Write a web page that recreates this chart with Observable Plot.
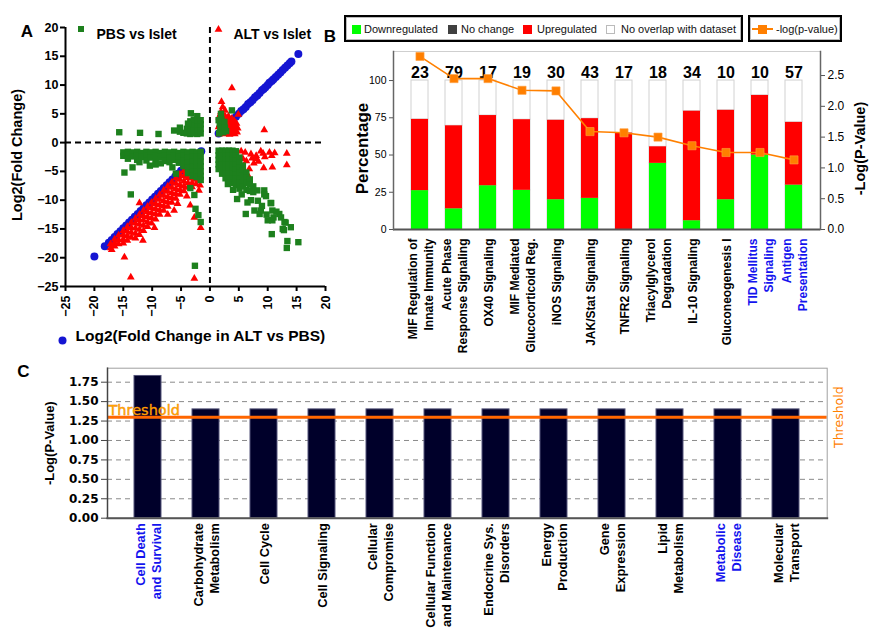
<!DOCTYPE html>
<html>
<head>
<meta charset="utf-8">
<script src="https://cdn.jsdelivr.net/npm/d3@7"></script>
<script src="https://cdn.jsdelivr.net/npm/@observablehq/plot@0.6"></script>
<style>
  html, body { margin:0; padding:0; background:#fff; }
  #root { position:relative; width:877px; height:629px; overflow:hidden; background:#fff; font-family:"Liberation Sans", Arial, sans-serif; }
  .layer { position:absolute; }
  .layer svg { overflow: visible; }
  .lbox { position:absolute; border:2px solid #000; box-sizing:border-box; box-shadow: inset 0 0 0 1px #bbb; }
  .lsq { position:absolute; width:9px; height:9px; box-sizing:border-box; }
  .ltx { position:absolute; font-size:11px; line-height:12px; white-space:nowrap; color:#111; }
</style>
</head>
<body>
<div id="root"></div>
<script>
// ================= Panel A data =================
const aTicks = [-25, -20, -15, -10, -5, 0, 5, 10, 15, 20];
const aSeries = ["PBS vs Islet", "ALT vs Islet", "Log2(Fold Change in ALT vs PBS)"];
const aYLabel = "Log2(Fold Change)";

// Log2(Fold Change in ALT vs PBS) (blue circles)
const blueUp = [[1.5,1.6],[2.0,2.0],[2.5,2.6],[3.0,3.0],[3.5,3.5],[4.0,4.1],[4.5,4.5],[5.0,5.0],[5.4,5.5],[5.8,5.8],[6.2,6.2],[6.6,6.7],[7.0,7.0],[7.4,7.4],[7.8,7.9],[8.2,8.2],[8.6,8.6],[9.0,9.1],[9.3,9.3],[9.6,9.6],[10.0,10.0],[10.3,10.4],[10.7,10.7],[11.0,11.0],[11.4,11.4],[11.8,11.8],[12.2,12.2],[12.6,12.6],[13.0,13.0],[13.4,13.4],[13.8,13.8],[14.1,14.1],[15.3,15.4]];
const blueDown = [[-1.5,-1.5],[-2.0,-2.0],[-2.5,-2.4],[-3.0,-2.9],[-3.5,-3.4],[-4.0,-3.9],[-4.5,-4.4],[-5.0,-4.9],[-5.5,-5.4],[-6.0,-5.9],[-6.5,-6.4],[-7.0,-6.9],[-7.5,-7.4],[-8.0,-7.9],[-8.5,-8.4],[-9.0,-8.9],[-9.5,-9.4],[-10.0,-9.9],[-10.5,-10.4],[-11.0,-10.9],[-11.5,-11.4],[-12.0,-11.9],[-12.5,-12.4],[-13.0,-12.9],[-13.5,-13.4],[-14.0,-13.9],[-14.5,-14.4],[-15.0,-14.9],[-15.5,-15.4],[-16.0,-15.9],[-16.5,-16.4],[-17.0,-16.9],[-17.5,-17.4],[-18.2,-18.0],[-20.0,-19.8]];

// ALT vs Islet (red triangles)
const redUR = [[1.6,1.5],[1.8,2.3],[1.7,3.1],[1.9,3.8],[1.6,4.4],[2.1,1.6],[2.3,2.6],[2.2,3.4],[2.4,4.1],[2.3,4.9],[2.7,1.5],[2.8,2.2],[2.6,3.0],[2.9,3.7],[2.7,4.5],[3.1,1.7],[3.2,2.5],[3.0,3.3],[3.3,4.0],[3.4,1.4],[3.6,2.0],[3.5,2.8],[3.7,3.5],[3.9,1.6],[4.0,2.4],[4.1,3.1],[4.3,1.5],[4.4,2.1],[4.5,2.8],[4.2,3.8],[4.7,1.8],[4.8,2.5],[1.9,5.3],[2.6,5.6],[2.2,6.2],[2.0,7.1],[3.8,9.5],[9.4,2.2],[4.9,4.9],[3.2,4.6],[1.5,2.7],[2.0,1.9],[3.8,4.2],[4.6,3.3],[1.8,4.9]];
const redLR = [[5.4,-1.5],[6.1,-1.7],[7.1,-2.0],[8.0,-2.3],[8.8,-1.5],[9.2,-1.9],[10.3,-1.7],[10.7,-2.3],[11.2,-1.8],[13.3,-1.9],[13.3,-3.9],[10.8,-4.3],[9.3,-4.4],[8.0,-2.8],[8.4,-3.3],[6.8,-4.6],[6.6,-5.7],[5.7,-2.8],[6.3,-3.2],[7.6,-3.6],[5.0,-3.8],[9.5,-2.5],[7.3,-2.7]];
const redLL = [[-17.2,-17.6],[-17.2,-18.3],[-16.5,-16.8],[-16.5,-17.4],[-16.5,-18.0],[-15.8,-16.1],[-15.8,-16.9],[-15.8,-17.6],[-15.0,-15.3],[-15.0,-16.0],[-15.0,-16.8],[-15.0,-17.5],[-14.3,-14.6],[-14.3,-15.4],[-14.3,-16.2],[-14.3,-17.0],[-13.6,-13.9],[-13.6,-14.8],[-13.6,-15.6],[-13.6,-16.5],[-12.9,-13.2],[-12.9,-14.0],[-12.9,-14.9],[-12.9,-15.8],[-12.9,-16.6],[-12.2,-12.5],[-12.2,-13.4],[-12.2,-14.2],[-12.2,-15.1],[-12.2,-16.0],[-11.5,-11.8],[-11.5,-12.7],[-11.5,-13.5],[-11.5,-14.4],[-11.5,-15.3],[-10.8,-11.1],[-10.8,-12.0],[-10.8,-12.9],[-10.8,-13.8],[-10.8,-14.6],[-10.1,-10.4],[-10.1,-11.3],[-10.1,-12.2],[-10.1,-13.1],[-10.1,-14.0],[-9.4,-9.7],[-9.4,-10.6],[-9.4,-11.5],[-9.4,-12.4],[-9.4,-13.3],[-8.7,-9.0],[-8.7,-9.9],[-8.7,-10.8],[-8.7,-11.7],[-8.7,-12.5],[-8.0,-8.3],[-8.0,-9.2],[-8.0,-10.1],[-8.0,-11.0],[-8.0,-11.8],[-7.3,-7.6],[-7.3,-8.5],[-7.3,-9.4],[-7.3,-10.3],[-7.3,-11.1],[-6.6,-6.9],[-6.6,-7.8],[-6.6,-8.7],[-6.6,-9.6],[-6.6,-10.4],[-5.9,-6.2],[-5.9,-7.1],[-5.9,-8.0],[-5.9,-8.9],[-5.9,-9.7],[-5.2,-5.5],[-5.2,-6.4],[-5.2,-7.3],[-5.2,-8.2],[-5.2,-9.0],[-4.5,-4.9],[-4.5,-5.8],[-4.5,-6.7],[-4.5,-7.6],[-4.5,-8.4],[-3.8,-4.4],[-3.8,-5.2],[-3.8,-6.1],[-3.8,-7.0],[-3.8,-7.8],[-3.1,-4.5],[-3.1,-5.3],[-3.1,-6.2],[-3.1,-7.0],[-3.1,-7.7],[-2.4,-4.7],[-2.4,-5.6],[-2.4,-6.4],[-2.4,-7.2],[-1.7,-5.0],[-1.7,-5.8],[-1.7,-6.6],[-1.7,-7.4],[-14.8,-19.9],[-13.7,-23.4],[-2.7,-23.6],[-1.6,-14.8],[-2.7,-13.0],[-3.4,-10.9],[-6.2,-11.8],[-7.3,-12.5],[-9.6,-14.8],[-12.2,-10.5],[-17.0,-18.6],[-11.6,-17.0],[-4.0,-9.3],[-1.9,-8.3],[-5.6,-10.6]];

// PBS vs Islet (green squares)
const greenUL = [[-4.0,1.6],[-4.0,2.4],[-3.4,1.5],[-3.4,2.2],[-3.4,3.0],[-3.4,3.7],[-2.8,1.6],[-2.8,2.4],[-2.8,3.2],[-2.8,4.0],[-2.2,1.5],[-2.2,2.3],[-2.2,3.1],[-2.2,3.9],[-2.2,4.6],[-1.6,1.6],[-1.6,2.4],[-1.6,3.2],[-1.6,3.9],[-4.6,1.7],[-5.2,1.9],[-5.2,2.6],[-15.7,1.8],[-12.1,1.7],[-8.9,1.5],[-6.2,2.1],[-3.3,5.1],[-3.8,3.3]];
const greenLL = [[-15.0,-1.7],[-15.0,-2.3],[-14.2,-1.6],[-14.2,-2.1],[-14.2,-2.8],[-13.4,-1.7],[-13.4,-2.4],[-12.6,-1.6],[-12.6,-2.2],[-12.6,-3.0],[-11.8,-1.8],[-11.8,-2.5],[-11.0,-1.6],[-11.0,-2.2],[-11.0,-3.1],[-10.2,-1.7],[-10.2,-2.6],[-9.4,-1.6],[-9.4,-2.2],[-9.4,-3.0],[-8.6,-1.8],[-8.6,-2.5],[-7.8,-1.6],[-7.8,-2.3],[-7.8,-3.2],[-7.0,-1.7],[-7.0,-2.6],[-7.0,-3.4],[-6.2,-1.6],[-6.2,-2.2],[-6.2,-3.0],[-5.4,-1.8],[-5.4,-2.5],[-5.4,-3.5],[-4.6,-1.6],[-4.6,-2.3],[-4.6,-3.2],[-4.6,-4.1],[-3.8,-1.7],[-3.8,-2.6],[-3.8,-3.5],[-3.8,-4.4],[-3.8,-5.3],[-3.0,-1.6],[-3.0,-2.4],[-3.0,-3.3],[-3.0,-4.2],[-3.0,-5.0],[-3.0,-5.8],[-2.3,-1.7],[-2.3,-2.5],[-2.3,-3.4],[-2.3,-4.3],[-2.3,-5.1],[-2.3,-6.0],[-1.6,-1.6],[-1.6,-2.4],[-1.6,-3.3],[-1.6,-4.1],[-1.6,-5.0],[-1.6,-5.9],[-1.6,-6.5],[-14.8,-5.2],[-13.4,-4.3],[-13.7,-9.0],[-10.4,-4.0],[-9.4,-3.8],[-5.9,-5.4],[-3.4,-7.9],[-2.7,-9.1],[-2.5,-11.5],[-2.0,-12.6],[-1.6,-13.8],[-2.6,-21.4],[-12.2,-3.4],[-8.5,-3.6],[-6.5,-4.3]];
const greenUR = [[1.6,1.6],[1.8,2.5],[1.7,3.3],[2.0,4.0],[2.3,1.8],[2.2,2.9],[2.5,3.6],[2.8,2.0],[1.9,5.0],[3.8,5.6],[2.6,2.6],[1.5,3.9]];
const greenLR = [[1.5,-1.4],[1.5,-2.2],[1.5,-3.0],[1.5,-3.8],[1.5,-4.6],[2.1,-1.4],[2.1,-2.2],[2.1,-3.0],[2.1,-3.8],[2.1,-4.6],[2.1,-5.4],[2.7,-1.4],[2.7,-2.2],[2.7,-3.0],[2.7,-3.8],[2.7,-4.6],[2.7,-5.4],[2.7,-6.2],[3.3,-1.4],[3.3,-2.2],[3.3,-3.0],[3.3,-3.8],[3.3,-4.6],[3.3,-5.4],[3.3,-6.2],[3.3,-7.0],[3.9,-1.4],[3.9,-2.2],[3.9,-3.0],[3.9,-3.8],[3.9,-4.6],[3.9,-5.4],[3.9,-6.2],[3.9,-7.0],[4.5,-1.5],[4.5,-2.3],[4.5,-3.1],[4.5,-3.9],[4.5,-4.7],[4.5,-5.5],[4.5,-6.3],[4.5,-7.4],[5.1,-2.6],[5.1,-3.5],[5.1,-4.4],[5.1,-5.3],[5.1,-6.2],[5.1,-7.0],[5.1,-8.0],[5.7,-4.0],[5.7,-4.9],[5.7,-5.8],[5.7,-6.7],[5.7,-7.6],[6.3,-5.2],[6.3,-6.1],[6.3,-7.0],[6.3,-8.2],[6.9,-6.4],[6.9,-7.3],[6.9,-8.4],[7.5,-7.6],[7.5,-8.6],[4.7,-9.8],[6.5,-10.4],[7.7,-11.8],[9.4,-8.3],[9.7,-9.3],[10.6,-10.5],[10.8,-11.8],[12.0,-12.4],[10.7,-15.9],[12.9,-13.8],[14.0,-14.7],[13.4,-17.1],[13.3,-18.3],[15.3,-17.3],[8.8,-11.8],[8.6,-12.4],[10.0,-13.5],[10.8,-13.5],[12.6,-15.0],[11.0,-13.0],[7.1,-10.0],[8.2,-8.3],[6.2,-12.4],[8.3,-10.1],[9.4,-9.0],[10.5,-10.5],[12.3,-13.0],[12.8,-15.2],[13.1,-13.9],[3.1,-7.2],[4.0,-8.2],[5.5,-9.0],[9.0,-11.0],[11.5,-12.0],[9.8,-12.5]];

// ================= Panel B data =================
const bPathways = ["MIF Regulation of\nInnate Immunity", "Acute Phase\nResponse Signaling", "OX40 Signaling", "MIF Mediated\nGlucocorticoid Reg.", "iNOS Signaling", "JAK/Stat Signaling", "TNFR2 Signaling", "Triacylglycerol\nDegradation", "IL-10 Signaling", "Gluconeogenesis I", "TID Mellitus\nSignaling", "Antigen\nPresentation"];
const bLabelBlue = [false, false, false, false, false, false, false, false, false, false, true, true];
const bCounts = [23, 79, 17, 19, 30, 43, 17, 18, 34, 10, 10, 57];
const bDown = [26.1, 13.9, 29.4, 26.3, 20.0, 20.9, 0, 44.4, 5.9, 20.0, 50.0, 29.8];
const bNoChange = [0, 0, 0, 0, 0, 0, 0, 0, 0, 0, 0, 0];
const bUp = [47.8, 55.7, 47.1, 47.4, 53.3, 53.5, 64.7, 11.1, 73.5, 60.0, 40.0, 42.1];
const bNoOverlap = [26.1, 30.4, 23.5, 26.3, 26.7, 25.6, 35.3, 44.5, 20.6, 20.0, 10.0, 28.1];
const bNegLogP = [2.81, 2.45, 2.45, 2.26, 2.25, 1.59, 1.57, 1.50, 1.36, 1.25, 1.25, 1.13];
const bStatus = ["Downregulated", "No change", "Upregulated", "No overlap with dataset"];
const bStatusColors = ["#00ff00", "#404040", "#ff0000", "#ffffff"];
const bLineLabel = "-log(p-value)";
const bPctTicks = [0, 25, 50, 75, 100];
const bPTicks = [0, 0.5, 1.0, 1.5, 2.0, 2.5];
const bYLabel = "Percentage";
const bY2Label = "-Log(P-Value)";

// ================= Panel C data =================
const cCategories = ["Cell Death\nand Survival", "Carbohydrate\nMetabolism", "Cell Cycle", "Cell Signaling", "Cellular\nCompromise", "Cellular Function\nand Maintenance", "Endocrine Sys.\nDisorders", "Energy\nProduction", "Gene\nExpression", "Lipid\nMetabolism", "Metabolic\nDisease", "Molecular\nTransport"];
const cLabelBlue = [true, false, false, false, false, false, false, false, false, false, true, false];
const cNegLogP = [1.83, 1.40, 1.40, 1.40, 1.40, 1.40, 1.40, 1.40, 1.40, 1.40, 1.40, 1.40];
const cThreshold = [{value: 1.3, label: "Threshold"}];
const cTicks = [0, 0.25, 0.5, 0.75, 1.0, 1.25, 1.5, 1.75];
const cYLabel = "-Log(P-Value)";

const panelLetters = ["A", "B", "C"];

// ================= Build =================
const FONT = "'Liberation Sans', Arial, Helvetica, sans-serif";
const GREEN = "#1d801d", RED = "#ff0000", BLUE = "#1515d2";
const pts = arr => arr.map(([x, y]) => ({x, y}));

const plotA = Plot.plot({
  width: 340, height: 355,
  marginLeft: 65, marginRight: 15, marginTop: 27, marginBottom: 69,
  x: {domain: [aTicks[0], aTicks[aTicks.length - 1]], axis: null},
  y: {domain: [aTicks[0], aTicks[aTicks.length - 1]], axis: null},
  style: {background: "transparent", fontFamily: FONT, fontWeight: "bold", color: "#000", overflow: "visible"},
  marks: [
    Plot.ruleX([0], {stroke: "#000", strokeWidth: 2, strokeDasharray: "6,4"}),
    Plot.ruleY([0], {stroke: "#000", strokeWidth: 2, strokeDasharray: "6,4"}),
    Plot.dot(pts(blueDown.concat(blueUp)), {x: "x", y: "y", r: 4, fill: BLUE, symbol: "circle"}),
    Plot.dot(pts([...redUR, ...redLR, ...redLL]), {x: "x", y: "y", r: 2.9, fill: RED, symbol: "triangle"}),
    Plot.dot(pts([...greenUL, ...greenLL, ...greenUR, ...greenLR]), {x: "x", y: "y", r: 3.6, fill: GREEN, symbol: "square"}),
    Plot.ruleX([aTicks[0]], {stroke: "#000", strokeWidth: 2}),
    Plot.ruleY([aTicks[0]], {stroke: "#000", strokeWidth: 2}),
    Plot.axisY({ticks: aTicks, tickSize: 5, tickPadding: 2, strokeWidth: 2, fontSize: 12.5, fontWeight: "bold", label: null}),
    Plot.axisX({ticks: aTicks, tickSize: 5, tickPadding: 4, strokeWidth: 2, fontSize: 12.5, fontWeight: "bold", tickRotate: -90, label: null}),
    // legend texts
    Plot.text([aSeries[0]], {frameAnchor: "top-left", dx: 31, dy: 2, textAnchor: "start", fontSize: 14, fontWeight: "bold"}),
    Plot.dot([aSeries[1]], {frameAnchor: "top-left", dx: 153, dy: 2, symbol: "triangle", r: 2.9, fill: RED}),
    Plot.text([aSeries[1]], {frameAnchor: "top-left", dx: 168, dy: 2, textAnchor: "start", fontSize: 14, fontWeight: "bold"}),
    Plot.dot([aSeries[2]], {frameAnchor: "bottom-left", dx: -3, dy: 54, symbol: "circle", r: 4, fill: BLUE}),
    Plot.text([aSeries[2]], {frameAnchor: "bottom-left", dx: 10, dy: 54, textAnchor: "start", fontSize: 15.5, fontWeight: "bold"}),
    Plot.text([aYLabel], {frameAnchor: "left", textAnchor: "middle", dx: -48, dy: -2, rotate: -90, fontSize: 14.5, fontWeight: "bold"}),
    Plot.text([panelLetters[0]], {frameAnchor: "top-left", textAnchor: "middle", dx: -38.5, dy: -3, fontSize: 17, fontWeight: "bold"}),
    Plot.text([panelLetters[1]], {frameAnchor: "top-right", textAnchor: "middle", dx: 4.5, dy: 2, fontSize: 17, fontWeight: "bold"})
  ]
});

// Panel B
const bRows = bPathways.map((p, i) => ({pathway: p, n: bCounts[i], p: bNegLogP[i], blue: bLabelBlue[i]}));
const bLong = bPathways.flatMap((p, i) => [
  {pathway: p, status: bStatus[0], value: bDown[i]},
  {pathway: p, status: bStatus[1], value: bNoChange[i]},
  {pathway: p, status: bStatus[2], value: bUp[i]},
  {pathway: p, status: bStatus[3], value: bNoOverlap[i]}
]);
const bX = {type: "band", domain: bPathways, paddingInner: 0.5, paddingOuter: 0.36, axis: null};
const bDims = {width: 537, height: 360, marginLeft: 53, marginRight: 57, marginTop: 51, marginBottom: 131};
const bLabelOpts = {x: "pathway", text: "pathway", frameAnchor: "bottom", dy: 9, rotate: -90, textAnchor: "end", lineAnchor: "middle", lineHeight: 1.35, fontSize: 12, fontWeight: "bold"};

const plotB1 = Plot.plot({
  ...bDims,
  x: bX,
  y: {domain: [0, 119.5], axis: null},
  color: {domain: bStatus, range: bStatusColors},
  style: {background: "transparent", fontFamily: FONT, color: "#000", overflow: "visible"},
  marks: [
    Plot.frame({stroke: "#cfcfcf"}),
    Plot.barY(bLong, {x: "pathway", y: "value", fill: "#ffffff", stroke: "#d2d2d2", strokeWidth: 1}),
    Plot.barY(bLong, {x: "pathway", y: "value", fill: "status", filter: d => d.status !== bStatus[3]}),
    Plot.text(bRows, {x: "pathway", text: "n", frameAnchor: "top", dy: 14.7, fontSize: 16, fontWeight: "bold"}),
    Plot.ruleY([0], {stroke: "#555", strokeWidth: 2}),
    Plot.frame({anchor: "left", stroke: "#666", strokeWidth: 1.5}),
    Plot.frame({anchor: "right", stroke: "#666", strokeWidth: 1.5}),
    Plot.axisY({ticks: bPctTicks, tickSize: 4, tickPadding: 3, fontSize: 10.5, stroke: "#555", label: null}),
    Plot.text(bRows, {...bLabelOpts, filter: d => !d.blue, fill: "#000"}),
    Plot.text(bRows, {...bLabelOpts, filter: d => d.blue, fill: "#1414ee"}),
    Plot.text([bYLabel], {frameAnchor: "left", textAnchor: "middle", dx: -31, dy: 8, rotate: -90, fontSize: 17, fontWeight: "bold"})
  ]
});

const plotB2 = Plot.plot({
  ...bDims,
  x: bX,
  y: {domain: [0, 2.89], axis: null},
  style: {background: "transparent", fontFamily: FONT, color: "#000", overflow: "visible"},
  marks: [
    Plot.line(bRows, {x: "pathway", y: "p", stroke: "#ff8000", strokeWidth: 1.6}),
    Plot.dot(bRows, {x: "pathway", y: "p", symbol: "square", r: 4.6, fill: "#ff7f00", stroke: "#ffa040", strokeWidth: 0.6}),
    Plot.axisY({anchor: "right", ticks: bPTicks, tickFormat: d => d.toFixed(1), tickSize: 4, tickPadding: 3, fontSize: 12, stroke: "#555", label: null}),
    Plot.text([bY2Label], {frameAnchor: "right", textAnchor: "middle", dx: 40, dy: 8, rotate: -90, fontSize: 14.5, fontWeight: "bold"})
  ]
});

// Panel C
const cRows = cCategories.map((c, i) => ({cat: c, v: cNegLogP[i], blue: cLabelBlue[i]}));
const cLabelOpts = {x: "cat", text: "cat", frameAnchor: "bottom", dy: 5, rotate: -90, textAnchor: "end", lineAnchor: "middle", lineHeight: 1.2, fontSize: 12.8, fontWeight: "bold", fontFamily: FONT};
const plotC = Plot.plot({
  width: 877, height: 284,
  marginLeft: 107, marginRight: 50.3, marginTop: 22.7, marginBottom: 111.3,
  x: {type: "band", domain: cCategories, paddingInner: 0.533, paddingOuter: 0.378, axis: null},
  y: {domain: [0, 1.93], axis: null},
  style: {background: "transparent", fontFamily: "'DejaVu Sans', Verdana, sans-serif", color: "#000", overflow: "visible"},
  marks: [
    Plot.gridY(cTicks.slice(1), {stroke: "#8a8a8a", strokeOpacity: 1, strokeDasharray: "5,4", strokeWidth: 1}),
    Plot.barY(cRows, {x: "cat", y: "v", fill: "#00002a", stroke: "#55557a", strokeWidth: 1}),
    Plot.ruleY(cThreshold, {y: "value", stroke: "#ff6600", strokeWidth: 3}),
    Plot.frame({stroke: "#a0a0a0"}),
    Plot.frame({anchor: "left", stroke: "#444", strokeWidth: 1.5}),
    Plot.frame({anchor: "bottom", stroke: "#555", strokeWidth: 2}),
    Plot.axisY({ticks: cTicks, tickFormat: d => d.toFixed(2), tickSize: 6, tickPadding: 3, fontSize: 12, fontWeight: "bold", stroke: "#444", label: null}),
    Plot.text(cThreshold, {y: "value", text: "label", frameAnchor: "left", textAnchor: "start", dx: 1, dy: -7, fontSize: 14.5, fill: "#ffa200", stroke: "#e06a00", strokeWidth: 0.4}),
    Plot.text(cThreshold, {y: "value", text: "label", frameAnchor: "right", textAnchor: "middle", dx: 11.5, rotate: -90, fontSize: 12.5, fill: "#ff8000"}),
    Plot.text(cRows, {...cLabelOpts, filter: d => !d.blue, fill: "#000"}),
    Plot.text(cRows, {...cLabelOpts, filter: d => d.blue, fill: "#1414ee"}),
    Plot.text([cYLabel], {frameAnchor: "left", textAnchor: "middle", dx: -58, rotate: -90, fontSize: 13, fontWeight: "bold", fontFamily: FONT}),
    Plot.text([panelLetters[2]], {frameAnchor: "top-left", textAnchor: "middle", dx: -84, dy: -3.7, fontSize: 17, fontWeight: "bold", fontFamily: FONT})
  ]
});

const root = document.getElementById("root");
function place(el, left, top) {
  const d = document.createElement("div");
  d.className = "layer";
  d.style.left = left + "px";
  d.style.top = top + "px";
  d.appendChild(el);
  root.appendChild(d);
}
place(plotC, 0, 345);
place(plotA, 0, 0);
place(plotB1, 340, 0);
place(plotB2, 340, 0);

function addDiv(cls, left, top, css, text) {
  const d = document.createElement("div");
  d.className = cls;
  d.style.left = left + "px";
  d.style.top = top + "px";
  if (css) Object.assign(d.style, css);
  if (text != null) d.textContent = text;
  root.appendChild(d);
  return d;
}
// Panel A legend marker for "PBS vs Islet" (green square)
addDiv("lsq", 77.5, 25.8, {width: "6.5px", height: "6.5px", background: GREEN});

// Panel B legend boxes (HTML)
addDiv("lbox", 344, 15, {width: "399px", height: "27px"});
addDiv("lbox", 748, 15, {width: "94px", height: "27px"});
const sqX = [352, 448, 523, 606];
const txX = [364, 461, 537, 621];
bStatus.forEach((s, i) => {
  addDiv("lsq", sqX[i], 24.5, {background: bStatusColors[i], border: i === 3 ? "1px solid #bbb" : "none"});
  addDiv("ltx", txX[i], 23, null, s);
});
addDiv("lsq", 752, 28, {width: "21px", height: "2px", background: "#ff8000"});
addDiv("lsq", 758, 24.5, {background: "#ff7f00"});
addDiv("ltx", 776, 23, null, bLineLabel);
</script>
</body>
</html>
